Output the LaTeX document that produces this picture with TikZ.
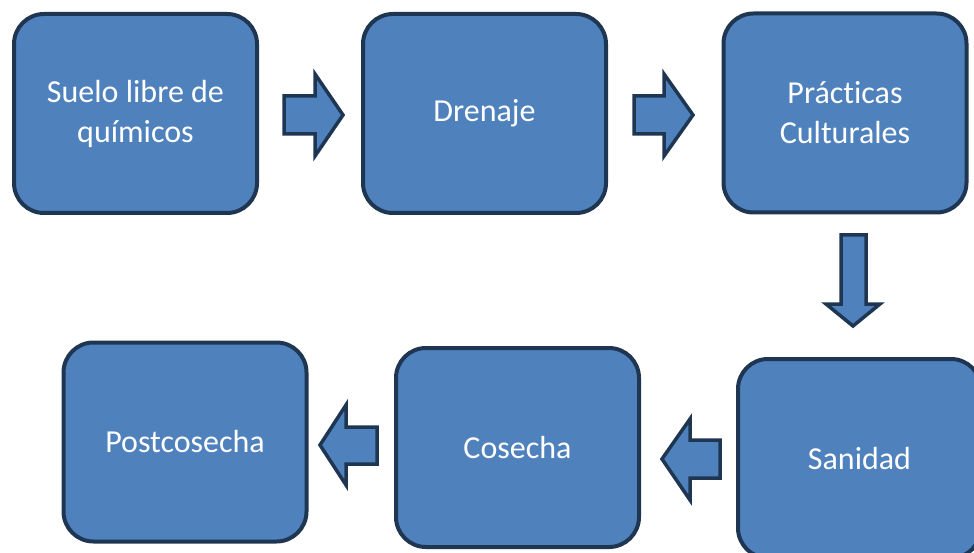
\documentclass[tikz,border=0pt]{standalone}
\usepackage{fontspec}
\setmainfont{Carlito}[Ligatures=NoCommon]
\definecolor{boxfill}{HTML}{4F81BD}
\definecolor{boxline}{HTML}{1F3652}
\begin{document}
\begin{tikzpicture}[x=1pt,y=-1pt,
  stepbox/.style={draw=boxline, fill=boxfill, line width=4pt, rounded corners=30pt,
    minimum width=243pt, minimum height=199pt, inner sep=0pt, align=center,
    text=white, font=\fontsize{32}{40}\selectfont},
  blockarrow/.style={draw=boxline, fill=boxfill, line width=3.5pt}]
\useasboundingbox (0,0) rectangle (974,553);
\node[stepbox] (b1) at (135.5,113.5) {Suelo libre de\\químicos};
\node[stepbox] (b2) at (484.5,113.5) {Drenaje};
\node[stepbox] (b3) at (845,113) {Prácticas\\Culturales};
\node[stepbox] (b4) at (859.5,458.5) {Sanidad};
\node[stepbox] (b5) at (517.5,447.5) {Cosecha};
\node[stepbox] (b6) at (185,442) {Postcosecha};
% block arrows
\draw[blockarrow] (284,96) -- (315,96) -- (315,74) -- (343,115) -- (315,156) -- (315,134) -- (284,134) -- cycle;
\draw[blockarrow] (634,96) -- (664,96) -- (664,74) -- (693,115) -- (664,156) -- (664,134) -- (634,134) -- cycle;
\draw[blockarrow] (841,235) -- (866,235) -- (866,304) -- (880,304) -- (853,326) -- (826,304) -- (841,304) -- cycle;
\draw[blockarrow] (720,440) -- (690,440) -- (690,419) -- (662,459) -- (690,500) -- (690,478) -- (720,478) -- cycle;
\draw[blockarrow] (377,427) -- (346,427) -- (346,405) -- (320,445) -- (346,485) -- (346,464) -- (377,464) -- cycle;
\end{tikzpicture}
\end{document}
